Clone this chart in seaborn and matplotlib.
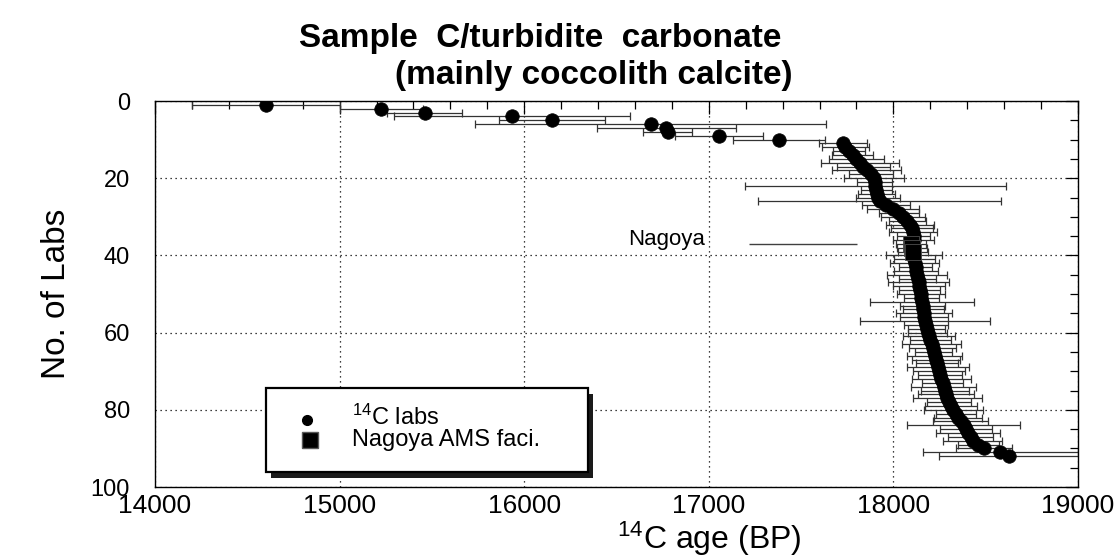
import numpy as np
import pandas as pd
import matplotlib
matplotlib.use("Agg")
import matplotlib.pyplot as plt
import seaborn as sns
from matplotlib.patches import Rectangle
from matplotlib.ticker import MultipleLocator

# ---------------- data ----------------
lab_rank = list(range(1, 93))
c14_age = [14600, 15225, 15460, 15935, 16150, 16685, 16770, 16778, 17056, 17380,
           17725, 17740, 17760, 17779, 17800, 17818, 17838, 17855, 17878, 17895,
           17900, 17903, 17906, 17910, 17918, 17926, 17960, 17998, 18030, 18052,
           18075, 18090, 18100, 18106, 18110, 18111, 18095, 18100, 18105, 18112,
           18114, 18116, 18120, 18124, 18128, 18132, 18136, 18140, 18143, 18147,
           18150, 18155, 18158, 18162, 18166, 18168, 18171, 18176, 18180, 18186,
           18192, 18200, 18207, 18212, 18218, 18224, 18230, 18236, 18241, 18247,
           18253, 18260, 18266, 18272, 18279, 18285, 18292, 18300, 18312, 18325,
           18340, 18352, 18365, 18380, 18392, 18405, 18418, 18431, 18460, 18490,
           18580, 18625]
age_err = [400, 225, 205, 640, 285, 950, 375, 133, 240, 250,
           130, 128, 85, 110, 150, 210, 143, 188, 120, 160,
           95, 705, 84, 100, 120, 658, 131, 140, 110, 120,
           100, 130, 115, 128, 90, 111, 80, 80, 80, 150,
           110, 133, 90, 120, 163, 100, 167, 140, 110, 130,
           95, 280, 120, 110, 150, 130, 350, 120, 100, 105,
           140, 110, 160, 125, 100, 150, 130, 115, 170, 140,
           120, 160, 110, 175, 130, 150, 188, 120, 140, 160,
           110, 130, 150, 305, 140, 175, 120, 160, 110, 150,
           420, 380]
nagoya_ams_ranks = [37, 38, 39]
nagoya_label = "Nagoya"
nagoya_label_rank = 37
nagoya_bar_lo = 17220
nagoya_bar_hi = 17805

x_major = [14000, 15000, 16000, 17000, 18000, 19000]
y_major = [0, 20, 40, 60, 80, 100]

title_1 = "Sample  C/turbidite  carbonate"
title_2 = "(mainly coccolith calcite)"
legend_labels = ["$^{14}$C labs", "Nagoya AMS faci."]

# ---------------- style ----------------
sns.set_theme(style="white")
plt.rcParams["font.family"] = ["Liberation Sans", "DejaVu Sans"]
plt.rcParams["mathtext.fontset"] = "custom"
plt.rcParams["mathtext.rm"] = "Liberation Sans"
plt.rcParams["mathtext.it"] = "Liberation Sans:italic"
plt.rcParams["mathtext.bf"] = "Liberation Sans:bold"
for k in ["text.color", "axes.labelcolor", "xtick.color", "ytick.color"]:
    plt.rcParams[k] = "black"

df = pd.DataFrame({"rank": lab_rank, "age": c14_age, "err": age_err})
df["facility"] = np.where(df["rank"].isin(nagoya_ams_ranks), legend_labels[1], legend_labels[0])

fig = plt.figure(figsize=(11.2, 5.6), dpi=100)
ax = fig.add_axes([155 / 1120, 73 / 560, 923 / 1120, 386 / 560])

# error bars
ax.errorbar(df["age"], df["rank"], xerr=df["err"], fmt="none", ecolor="0.2",
            elinewidth=0.9, capsize=2.6, capthick=0.9, zorder=2)
ax.hlines(nagoya_label_rank, nagoya_bar_lo, nagoya_bar_hi, color="0.25", lw=1.0, zorder=2)
ax.text(nagoya_bar_lo - 240, nagoya_label_rank - 1, nagoya_label, ha="right", va="center",
        fontsize=16, color="black")

labs = df[df["facility"] == legend_labels[0]]
ams = df[df["facility"] == legend_labels[1]]
sns.scatterplot(data=labs, x="age", y="rank", s=95, color="black", edgecolor="black",
                linewidth=0.5, ax=ax, zorder=3, legend=False)
sns.scatterplot(data=ams, x="age", y="rank", marker="s", s=130, color="black",
                edgecolor="0.3", linewidth=0.6, ax=ax, zorder=4, legend=False)

ax.set_xlim(14000, 19000)
ax.set_ylim(100, 0)
ax.set_xticks(x_major)
ax.set_yticks(y_major)
ax.xaxis.set_minor_locator(MultipleLocator(200))
ax.yaxis.set_minor_locator(MultipleLocator(5))
ax.grid(True, which="major", linestyle=(0, (1, 3)), color="black", linewidth=0.9)
ax.tick_params(which="both", direction="in", top=True, right=True, color="black", width=0.9)
ax.tick_params(which="major", length=9)
ax.tick_params(which="minor", length=6)
ax.tick_params(axis="x", labelsize=19, pad=5)
ax.tick_params(axis="y", labelsize=17, pad=18)
for s in ax.spines.values():
    s.set_color("black")
    s.set_linewidth(1.0)

ax.set_xlabel("$^{14}$C age (BP)", fontsize=23)
ax.xaxis.set_label_coords(0.60, -0.085)
ax.set_ylabel("No. of Labs", fontsize=24)
ax.yaxis.set_label_coords(-0.09, 0.5)

# legend box with shadow
lx, ly, lw_, lh = 0.120, 0.039, 0.349, 0.217
ax.add_patch(Rectangle((lx + 0.006, ly - 0.016), lw_, lh, transform=ax.transAxes,
                       facecolor="0.1", edgecolor="none", zorder=5.8))
ax.add_patch(Rectangle((lx, ly), lw_, lh, transform=ax.transAxes,
                       facecolor="white", edgecolor="black", linewidth=1.6, zorder=5.9))
ax.plot([0.165], [0.173], marker="o", ms=7, color="black", transform=ax.transAxes,
        zorder=7, clip_on=False)
ax.plot([0.168], [0.121], marker="s", ms=11, color="black", mec="0.35", transform=ax.transAxes,
        zorder=7, clip_on=False)
ax.text(0.213, 0.180, legend_labels[0], transform=ax.transAxes, fontsize=17,
        va="center", ha="left", zorder=7)
ax.text(0.213, 0.121, legend_labels[1], transform=ax.transAxes, fontsize=17,
        va="center", ha="left", zorder=7)

fig.text(0.482, 0.932, title_1, ha="center", va="center", fontsize=24, weight="bold")
fig.text(0.530, 0.866, title_2, ha="center", va="center", fontsize=24, weight="bold")

fig.savefig("out.png", dpi=100)
